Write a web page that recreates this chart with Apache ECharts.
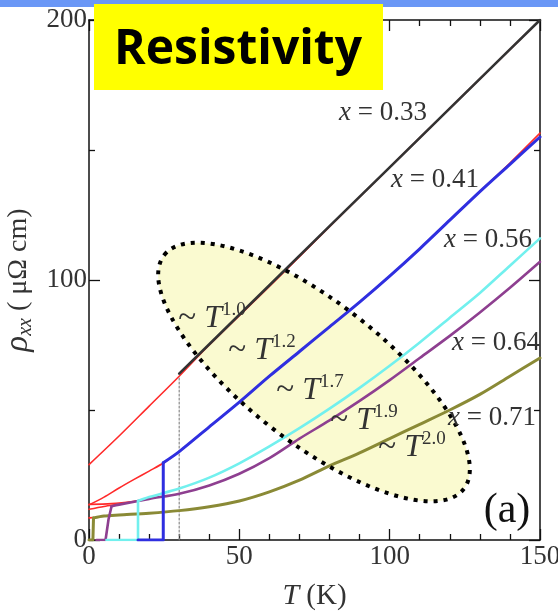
<!DOCTYPE html>
<html><head><meta charset="utf-8">
<script src="https://cdn.jsdelivr.net/npm/echarts@6/dist/echarts.min.js"></script>
<style>html,body{margin:0;padding:0;background:#fff}#c{width:558px;height:613px}</style>
</head><body><div id="c"></div>
<script>
// ---- data (T in K, rho in µΩ cm) ----
var xTicks = [0, 50, 100, 150];
var yTicks = [0, 100, 200];
var T_033   = [30, 40, 60, 80, 100, 120, 140, 150];
var rho_033 = [64, 75.3, 98, 120.7, 143.3, 166, 188.7, 200];
var T_033_jump   = [30, 30];
var rho_033_jump = [0, 63];
var T_041   = [16.3, 24.7, 24.7, 30, 40, 50, 60, 70, 80, 90, 100, 110, 120, 130, 140, 150];
var rho_041 = [0, 0, 29.7, 34, 43.5, 53, 63, 72.5, 82, 91.5, 101.5, 112, 123, 134, 144.5, 155];
var T_056   = [5.8, 16.3, 16.3, 20, 30, 40, 50, 60, 70, 80, 90, 100, 110, 120, 130, 140, 150];
var rho_056 = [0, 0, 15, 16.5, 19.8, 24, 29.5, 36, 43, 50.5, 58.5, 67, 76, 85.5, 95, 105.5, 116];
var T_064   = [2.5, 5.5, 6.5, 7.5, 10, 20, 30, 40, 50, 60, 70, 80, 90, 100, 110, 120, 130, 140, 150];
var rho_064 = [0, 0, 8, 13, 13.6, 15.8, 17.8, 21, 25.5, 31.5, 39, 46, 53.5, 61.5, 70, 78.5, 87.5, 97, 107];
var T_071   = [0, 1.3, 1.5, 5, 10, 20, 30, 40, 50, 60, 70, 80, 90, 100, 110, 120, 130, 140, 150];
var rho_071 = [0, 0, 8.5, 9.2, 9.6, 10.3, 11.3, 12.8, 15, 18.5, 23, 28.5, 33.5, 39, 44.5, 50, 56, 63, 70];
// normal-state (red) curves
var T_n033   = [0, 10, 20, 30, 40, 60, 80, 100, 120, 150];
var rho_n033 = [29, 40, 51.5, 63, 75, 97.5, 120.5, 143.3, 166, 200];
var T_n041   = [0, 5, 10, 15, 20, 25, 30, 40, 50, 60, 70, 80, 90, 100, 110, 120, 130, 140, 150];
var rho_n041 = [13.5, 16.5, 20, 23.3, 26.5, 29.8, 34, 43.5, 53, 63, 72.5, 82, 91.5, 101.5, 112, 123, 134, 145, 156.5];
var T_n056   = [0, 5, 10, 16.3];
var rho_n056 = [11.8, 12.9, 13.8, 15];
var T_n064   = [0, 7.5, 16];
var rho_n064 = [13.7, 14, 15];
var T_n071   = [0, 1.3];
var rho_n071 = [8.5, 8.6];

var compositions = ['0.33', '0.41', '0.56', '0.64', '0.71'];
var exponents    = ['1.0', '1.2', '1.7', '1.9', '2.0'];
var titleText = 'Resistivity';
var panelText = '(a)';

// ---- chart ----
function pairs(t, r, a, b) {
  var out = []; a = a || 0; b = (b === undefined) ? t.length : b;
  for (var i = a; i < b; i++) out.push([t[i], r[i]]);
  return out;
}
var serif = 'Liberation Serif';
var chart = echarts.init(document.getElementById('c'), null, {renderer: 'canvas'});

function lineSeries(data, color, width, z, smooth, dash) {
  return {
    type: 'line', data: data, symbol: 'none', showSymbol: false,
    smooth: smooth ? 0.3 : false,
    lineStyle: {color: color, width: width, type: dash || 'solid', cap: 'round', join: 'round'},
    z: z, silent: true, animation: false
  };
}

var RED = '#ff2a2a', OLIVE = '#8a8a36', PURPLE = '#8e3f90', CYAN = '#72f0ee', BLUE = '#2f2fe0', BLACK = '#333333';
var series = [
  lineSeries(pairs(T_n033, rho_n033), RED, 1.6, 2, true),
  lineSeries(pairs(T_n041, rho_n041), RED, 1.6, 2, true),
  lineSeries(pairs(T_n056, rho_n056), RED, 1.6, 2, true),
  lineSeries(pairs(T_n064, rho_n064), RED, 1.6, 2, true),
  lineSeries(pairs(T_n071, rho_n071), RED, 1.6, 2, false),
  lineSeries(pairs(T_033_jump, rho_033_jump), '#8a8a8a', 1.2, 3, false, [2, 2]),
  // superconducting transitions (sharp) + normal-state parts (smooth)
  lineSeries(pairs(T_071, rho_071, 0, 3), OLIVE, 3, 4, false),
  lineSeries(pairs(T_071, rho_071, 2), OLIVE, 3, 4, true),
  lineSeries(pairs(T_064, rho_064, 0, 4), PURPLE, 2.6, 5, false),
  lineSeries(pairs(T_064, rho_064, 3), PURPLE, 2.6, 5, true),
  lineSeries(pairs(T_056, rho_056, 0, 3), CYAN, 2.6, 6, false),
  lineSeries(pairs(T_056, rho_056, 2), CYAN, 2.6, 6, true),
  lineSeries(pairs(T_041, rho_041, 0, 3), BLUE, 3, 7, false),
  lineSeries(pairs(T_041, rho_041, 2), BLUE, 3, 7, true),
  lineSeries(pairs(T_033, rho_033), BLACK, 2.6, 8, false)
];

function axisCommon(split) {
  return {
    axisLine: {show: true, onZero: false, lineStyle: {color: '#111', width: 1.5}},
    axisTick: {show: true, inside: true, length: 11, lineStyle: {color: '#111', width: 1.3}},
    minorTick: {show: true, splitNumber: split, length: 6, lineStyle: {color: '#111', width: 1.3}},
    splitLine: {show: false}
  };
}
function merge(a, b) { var o = {}; for (var k in a) o[k] = a[k]; for (var k2 in b) o[k2] = b[k2]; return o; }

var xMin = xTicks[0], xMax = xTicks[xTicks.length - 1];
var yMin = yTicks[0], yMax = yTicks[yTicks.length - 1];

var option = {
  animation: false,
  backgroundColor: '#ffffff',
  grid: {left: 89, right: 18, top: 20, bottom: 73, containLabel: false, outerBoundsMode: 'none'},
  xAxis: [
    merge(axisCommon(5), {
      type: 'value', min: xMin, max: xMax, interval: 50, position: 'bottom',
      axisLabel: {show: true, fontFamily: serif, fontSize: 27, color: '#333', margin: 3},
      name: '{t|T} (K)', nameLocation: 'middle', nameGap: 41,
      nameTextStyle: {fontFamily: serif, fontSize: 29, color: '#333',
        rich: {t: {fontFamily: serif, fontStyle: 'italic', fontSize: 30, color: '#333'}}}
    }),
    merge(axisCommon(5), {
      type: 'value', min: xMin, max: xMax, interval: 50, position: 'top',
      axisLabel: {show: false}
    })
  ],
  yAxis: [
    merge(axisCommon(2), {
      type: 'value', min: yMin, max: yMax, interval: 100, position: 'left',
      axisLabel: {show: true, fontFamily: serif, fontSize: 27, color: '#333', margin: 2},
      name: '{r|ρ}{s|xx}{n| ( μΩ cm)}', nameLocation: 'middle', nameGap: 30, nameRotate: 90,
      nameTextStyle: {fontFamily: serif, fontSize: 28, color: '#333',
        rich: {
          r: {fontFamily: serif, fontStyle: 'italic', fontSize: 33, color: '#333', lineHeight: 34, verticalAlign: 'top'},
          s: {fontFamily: serif, fontStyle: 'italic', fontSize: 20, color: '#333', verticalAlign: 'bottom'},
          n: {fontFamily: serif, fontSize: 28, color: '#333'}
        }}
    }),
    merge(axisCommon(2), {
      type: 'value', min: yMin, max: yMax, interval: 100, position: 'right',
      axisLabel: {show: false}
    })
  ],
  series: series
};

chart.setOption(option);

// ---- annotations ----
var g = [];
g.push({type: 'rect', z: 200, shape: {x: 0, y: 0, width: 558, height: 7}, style: {fill: '#6a97f6'}});
var ell = {cx: 0, cy: 0, rx: 190, ry: 70};
var rot = -38 * Math.PI / 180;
g.push({type: 'ellipse', x: 314, y: 372, rotation: rot, z: 0,
  shape: ell, style: {fill: '#fafad0', stroke: null}});
g.push({type: 'ellipse', x: 314, y: 372, rotation: rot, z: 50,
  shape: ell, style: {fill: null, stroke: '#000', lineWidth: 4, lineDash: [4, 6], lineCap: 'butt'}});
g.push({type: 'rect', z: 200, shape: {x: 94, y: 4, width: 289, height: 86}, style: {fill: '#ffff00'}});
g.push({type: 'text', z: 201, x: 238, y: 50, style: {text: titleText, fill: '#000',
  font: 'bold 48px "Open Sans"', align: 'center', verticalAlign: 'middle'}});
var compPos = [[383, 113], [435, 180], [488, 240], [496, 343], [492, 418]];
for (var i = 0; i < compositions.length; i++) {
  g.push({type: 'text', z: 60, x: compPos[i][0], y: compPos[i][1], style: {
    text: '{i|x}{n| = ' + compositions[i] + '}', fill: '#333',
    align: 'center', verticalAlign: 'middle',
    rich: {i: {fontStyle: 'italic', fontFamily: serif, fontSize: 27, fill: '#333'},
           n: {fontFamily: serif, fontSize: 27, fill: '#333'}}
  }});
}
var expPos = [[212, 318], [262, 350], [310, 390], [364, 420], [412, 447]];
for (var j = 0; j < exponents.length; j++) {
  g.push({type: 'text', z: 60, x: expPos[j][0], y: expPos[j][1], style: {
    text: '{a|~ }{t|T}{s|' + exponents[j] + '}', fill: '#333',
    align: 'center', verticalAlign: 'middle',
    rich: {
      a: {fontFamily: serif, fontSize: 33, fill: '#333', lineHeight: 34, verticalAlign: 'middle'},
      t: {fontFamily: serif, fontStyle: 'italic', fontSize: 32, fill: '#333', lineHeight: 34, verticalAlign: 'bottom'},
      s: {fontFamily: serif, fontSize: 19, fill: '#333', verticalAlign: 'top'}
    }
  }});
}
g.push({type: 'text', z: 60, x: 507, y: 511, style: {text: panelText, fill: '#111',
  font: '42px "Liberation Serif"', align: 'center', verticalAlign: 'middle'}});

chart.setOption({graphic: g});
</script></body></html>
